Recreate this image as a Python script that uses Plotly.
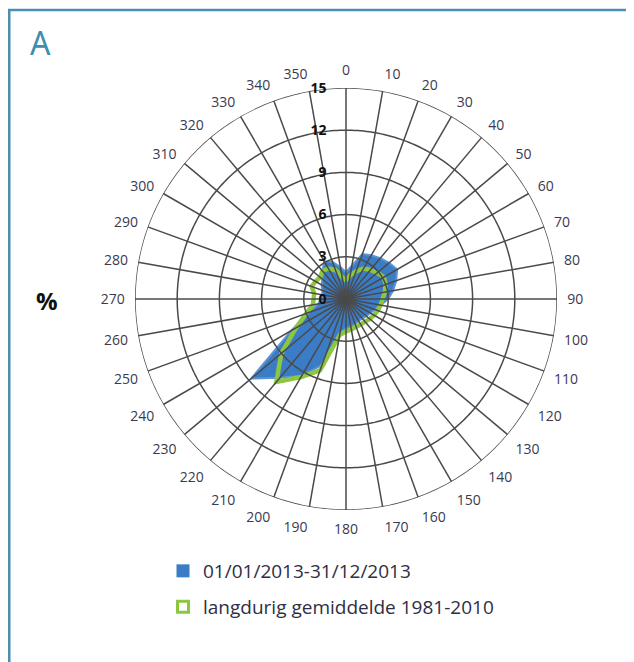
import plotly.graph_objects as go
import numpy as np

directions = list(range(0, 360, 10))
year_2013 = [1.9, 2.4, 3.4, 3.6, 3.8, 4.0, 4.2, 3.8, 3.4, 3.0, 2.5, 2.2, 2.0, 1.9, 1.8, 1.8,
             1.9, 2.0, 2.1, 2.4, 5.0, 6.3, 7.3, 8.8, 4.5, 2.8, 2.0, 1.8, 1.7, 1.8, 2.0, 2.2,
             2.6, 3.1, 2.8, 2.3]
normal_1981_2010 = [1.3, 1.7, 2.1, 2.5, 2.7, 2.9, 3.1, 3.0, 2.8, 2.6, 2.5, 2.4, 2.3, 2.2, 2.1, 2.1,
                    2.1, 2.2, 2.3, 2.6, 5.4, 6.4, 7.7, 6.0, 4.1, 3.0, 2.4, 2.3, 2.3, 2.6, 2.5, 2.4,
                    2.6, 2.5, 2.2, 1.6]
radial_ticks = [0, 3, 6, 9, 12, 15]
name_2013 = "01/01/2013-31/12/2013"
name_norm = "langdurig gemiddelde 1981-2010"

W, H = 634, 662
OFF = 8  # page body margin
cx, cy, R = 346 - OFF, 299 - OFF, 211
FONT = "Open Sans"
BLUE = "#3b7cc6"
GREEN = "#8dc63f"
GRID = "#4a4a4a"

fig = go.Figure()

def close(a):
    return list(a) + [a[0]]

fig.add_trace(go.Scatterpolar(
    r=close(year_2013), theta=close(directions), mode="lines", fill="toself",
    fillcolor=BLUE, line=dict(color="#5a95d6", width=2), showlegend=False, hoverinfo="skip"))
fig.add_trace(go.Scatterpolar(
    r=close(normal_1981_2010), theta=close(directions), mode="lines",
    line=dict(color=GREEN, width=4.5), showlegend=False, hoverinfo="skip"))

# grid drawn above the data (as in the reference)
for d in directions:
    fig.add_trace(go.Scatterpolar(r=[0, radial_ticks[-1]], theta=[d, d], mode="lines",
                                  line=dict(color=GRID, width=1.5), showlegend=False, hoverinfo="skip"))
ring_theta = np.linspace(0, 360, 361)
for t in radial_ticks[1:]:
    fig.add_trace(go.Scatterpolar(r=[t] * len(ring_theta), theta=ring_theta, mode="lines",
                                  line=dict(color=GRID, width=1.5), showlegend=False, hoverinfo="skip"))

# legend proxies
fig.add_trace(go.Scatterpolar(r=[None], theta=[None], mode="markers", name=name_2013,
                              marker=dict(symbol="square", size=13, color=BLUE), legend="legend"))
fig.add_trace(go.Scatterpolar(r=[None], theta=[None], mode="markers", name=name_norm,
                              marker=dict(symbol="square-open", size=11, color=GREEN,
                                          line=dict(width=3, color=GREEN)), legend="legend2"))

fig.update_layout(
    width=W, height=H, margin=dict(l=0, r=0, t=0, b=0),
    paper_bgcolor="white", plot_bgcolor="white",
    font=dict(family=FONT, color="#2e2e44"),
    polar=dict(
        domain=dict(x=[(cx - R) / W, (cx + R) / W], y=[1 - (cy + R) / H, 1 - (cy - R) / H]),
        bgcolor="rgba(0,0,0,0)",
        angularaxis=dict(rotation=90, direction="clockwise", tickmode="array",
                         tickvals=directions, ticktext=[str(d) for d in directions],
                         showgrid=False, showline=False, ticks="outside", ticklen=7,
                         tickcolor="rgba(0,0,0,0)",
                         tickfont=dict(size=14, color="#3a3a50", family=FONT)),
        radialaxis=dict(range=[0, 15], tickmode="array", tickvals=radial_ticks,
                        angle=90, tickangle=90, side="counterclockwise",
                        showgrid=False, showline=False, ticks="outside", ticklen=14,
                        tickcolor="rgba(0,0,0,0)",
                        tickfont=dict(size=14, color="#111111", family=FONT, weight="bold")),
    ),
    legend=dict(x=(163 - OFF) / W, y=1 - (552 - OFF) / H, xanchor="left", yanchor="top",
                font=dict(size=19, color="#2e2e44", family=FONT), bgcolor="rgba(0,0,0,0)"),
    legend2=dict(x=(163 - OFF) / W, y=1 - (588 - OFF) / H, xanchor="left", yanchor="top",
                 font=dict(size=19, color="#2e2e44", family=FONT), bgcolor="rgba(0,0,0,0)"),
    showlegend=True,
)

fig.add_shape(type="rect", xref="paper", yref="paper",
              x0=(8 - OFF) / W + 0.002, x1=1.05, y0=-0.05, y1=1 - (10 - OFF) / H,
              line=dict(color="#4a8fae", width=2.5), fillcolor="rgba(0,0,0,0)", layer="below")

fig.add_annotation(text="A", xref="paper", yref="paper", x=(28 - OFF) / W, y=1 - (42 - OFF) / H,
                   xanchor="left", yanchor="middle", showarrow=False,
                   font=dict(size=32, color="#3f8db0", family="Noto Sans"))
fig.add_annotation(text="<b>%</b>", xref="paper", yref="paper", x=(47 - OFF) / W, y=1 - (300 - OFF) / H,
                   xanchor="center", yanchor="middle", showarrow=False,
                   font=dict(size=24, color="#111111", family=FONT))

fig.write_html("out.html")
